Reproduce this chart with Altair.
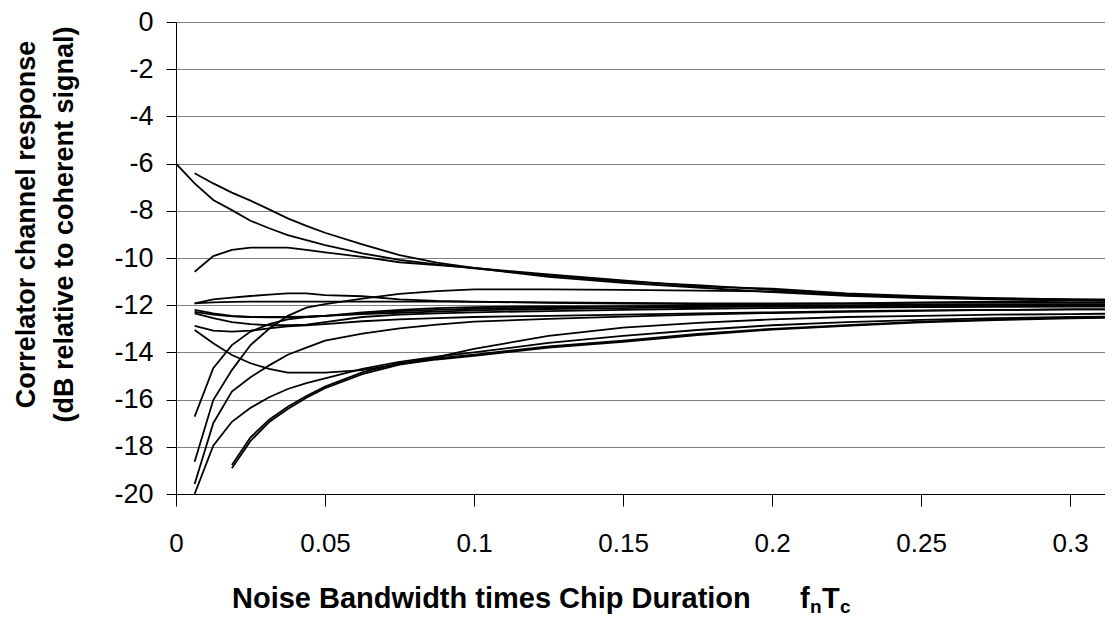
import altair as alt
import pandas as pd

# x grid of the sampled points (noise bandwidth x chip duration)
xs = [0, 0.00625, 0.0125, 0.01875, 0.025, 0.03125, 0.0375, 0.04375, 0.05, 0.0625,
      0.075, 0.0875, 0.1, 0.125, 0.15, 0.175, 0.2, 0.225, 0.25, 0.275, 0.3, 0.3125]

# correlator channel response curves (dB), None = no point
cA = [-6.0, -6.84, -7.54, -7.97, -8.42, -8.74, -9.03, -9.24, -9.45, -9.8, -10.08, -10.27, -10.44, -10.75, -11.0, -11.15, -11.35, -11.55, -11.65, -11.72, -11.78, -11.8]
cB = [None, -6.41, -6.84, -7.23, -7.57, -7.94, -8.32, -8.64, -8.93, -9.42, -9.88, -10.2, -10.42, -10.7, -10.95, -11.2, -11.3, -11.5, -11.62, -11.7, -11.75, -11.77]
cC = [None, -10.58, -9.92, -9.66, -9.56, -9.56, -9.56, -9.66, -9.76, -9.95, -10.18, -10.3, -10.42, -10.8, -11.05, -11.25, -11.45, -11.6, -11.7, -11.75, -11.78, -11.8]
cD = [None, -11.92, -11.75, -11.68, -11.61, -11.55, -11.5, -11.5, -11.57, -11.62, -11.75, -11.82, -11.85, -11.9, -11.93, -11.95, -11.95, -11.92, -11.88, -11.85, -11.82, -11.82]
cE = [None, -11.92, -11.88, -11.86, -11.85, -11.85, -11.85, -11.85, -11.85, -11.85, -11.85, -11.85, -11.86, -11.88, -11.9, -11.92, -11.92, -11.92, -11.9, -11.9, -11.9, -11.9]
cG1 = [None, -12.2, -12.35, -12.45, -12.5, -12.5, -12.5, -12.48, -12.45, -12.35, -12.25, -12.2, -12.15, -12.1, -12.05, -12.02, -12.0, -12.0, -11.98, -11.98, -11.97, -11.97]
cG2 = [None, -12.28, -12.4, -12.47, -12.5, -12.52, -12.52, -12.5, -12.45, -12.3, -12.2, -12.12, -12.08, -12.05, -12.05, -12.05, -12.05, -12.05, -12.05, -12.04, -12.04, -12.04]
cG3 = [None, -12.35, -12.55, -12.72, -12.8, -12.85, -12.85, -12.82, -12.72, -12.5, -12.4, -12.35, -12.3, -12.25, -12.2, -12.15, -12.12, -12.1, -12.08, -12.07, -12.06, -12.06]
cI = [None, -12.88, -13.08, -13.12, -13.08, -12.98, -12.9, -12.85, -12.8, -12.68, -12.6, -12.55, -12.5, -12.45, -12.4, -12.35, -12.3, -12.25, -12.22, -12.2, -12.18, -12.18]
cH = [None, -13.05, -13.61, -14.11, -14.46, -14.7, -14.86, -14.86, -14.86, -14.75, -14.5, -14.2, -13.85, -13.3, -12.95, -12.75, -12.6, -12.5, -12.45, -12.4, -12.38, -12.36]
ca = [None, -16.72, -14.67, -13.69, -13.12, -12.8, -12.6, -12.5, -12.45, -12.38, -12.32, -12.27, -12.22, -12.16, -12.12, -12.08, -12.05, -12.03, -12.02, -12.01, -12.0, -12.0]
cb = [None, -18.63, -16.02, -14.75, -13.69, -13.0, -12.45, -12.1, -11.95, -11.72, -11.52, -11.4, -11.33, -11.33, -11.35, -11.38, -11.42, -11.55, -11.65, -11.72, -11.75, -11.77]
cc = [None, -19.58, -17.0, -15.66, -15.05, -14.55, -14.1, -13.8, -13.5, -13.2, -12.98, -12.82, -12.7, -12.58, -12.48, -12.4, -12.33, -12.28, -12.24, -12.2, -12.18, -12.18]
cd = [None, -20.0, -17.95, -16.94, -16.35, -15.9, -15.55, -15.3, -15.1, -14.7, -14.4, -14.18, -14.0, -13.6, -13.3, -13.05, -12.85, -12.72, -12.62, -12.55, -12.5, -12.48]
ce1 = [None, None, None, -18.77, -17.6, -16.85, -16.3, -15.85, -15.45, -14.85, -14.45, -14.25, -14.1, -13.75, -13.5, -13.22, -13.0, -12.85, -12.7, -12.6, -12.53, -12.5]
ce2 = [None, None, None, -18.91, -17.75, -16.95, -16.4, -15.92, -15.52, -14.92, -14.52, -14.3, -14.15, -13.8, -13.55, -13.27, -13.03, -12.88, -12.73, -12.63, -12.56, -12.53]

curves = {"A": cA, "B": cB, "C": cC, "D": cD, "E": cE, "G1": cG1, "G2": cG2, "G3": cG3,
          "I": cI, "H": cH, "a": ca, "b": cb, "c": cc, "d": cd, "e1": ce1, "e2": ce2}

x_ticks = [0, 0.05, 0.1, 0.15, 0.2, 0.25, 0.3]
y_ticks = list(range(-20, 1, 2))

rows = []
for name, vals in curves.items():
    for xv, yv in zip(xs, vals):
        if yv is not None:
            rows.append({"x": xv, "y": yv, "series": name})
df = pd.DataFrame(rows)

FONT = "Liberation Sans"
W, H = 929, 472

lines = alt.Chart(df).mark_line(color="black", strokeWidth=1.8, clip=True).encode(
    x=alt.X("x:Q", scale=alt.Scale(domain=[0, 0.3117], nice=False, zero=False),
            axis=alt.Axis(values=x_ticks, grid=False, tickSize=12, labelPadding=24,
                          labelFlush=False, labelExpr="'' + datum.value", title=None,
                          domainColor="black", tickColor="black", labelFontSize=26)),
    y=alt.Y("y:Q", scale=alt.Scale(domain=[-20, 0], nice=False),
            axis=alt.Axis(values=y_ticks, grid=True, gridColor="#808080", gridWidth=1,
                          tickSize=10, labelPadding=13, labelExpr="'' + datum.value",
                          labelFontSize=27,
                          title=["Correlator channel response", "(dB relative to coherent signal)"],
                          titleFontSize=27, titleFontWeight="bold", titleX=-150, titleY=202,
                          titleAngle=270, titleAlign="center", titleBaseline="middle",
                          titleLineHeight=38, domainColor="black", tickColor="black")),
    detail="series:N",
)

one = alt.InlineData(values=[{}])


def piece(txt, px, py, size):
    return alt.Chart(one).mark_text(
        text=txt, font=FONT, fontSize=size, fontWeight="bold",
        align="left", baseline="alphabetic", color="black"
    ).encode(x=alt.value(px), y=alt.value(py))


title_main = piece("Noise Bandwidth times Chip Duration", 56, 586, 29)
t_f = piece("f", 624, 586, 29)
t_n = piece("n", 634, 591, 19)
t_T = piece("T", 646, 586, 29)
t_c = piece("c", 664, 591, 19)

chart = alt.layer(lines, title_main, t_f, t_n, t_T, t_c).properties(
    width=W, height=H,
    autosize=alt.AutoSizeParams(type="none"),
    padding={"left": 168, "top": 14, "right": 0, "bottom": 122},
).configure_view(stroke=None).configure_axis(
    labelFont=FONT, titleFont=FONT, labelColor="black", titleColor="black"
)

chart.save("out.html", embed_options={"renderer": "svg", "actions": False})
